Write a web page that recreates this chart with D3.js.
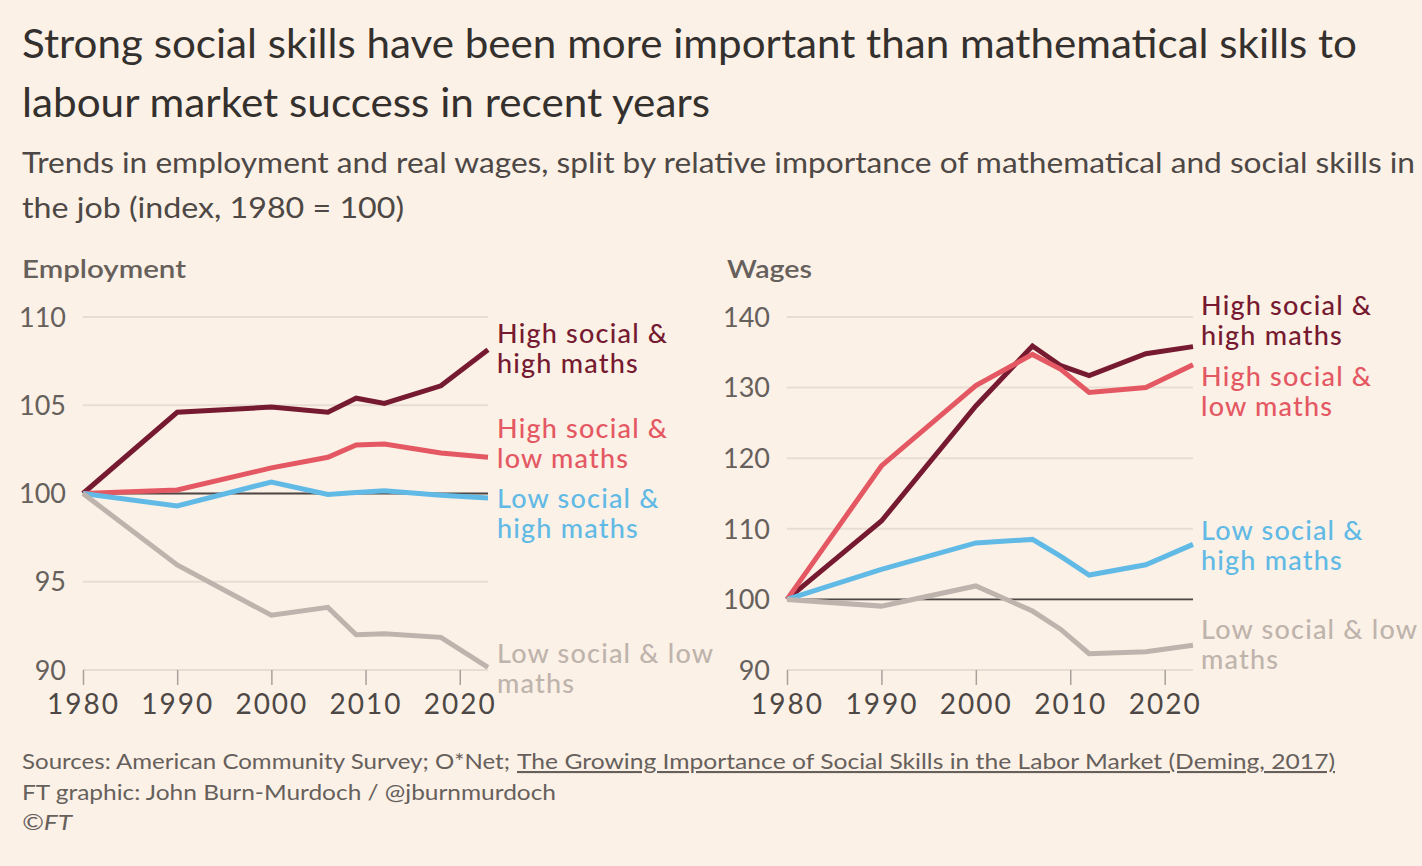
<!DOCTYPE html>
<html>
<head>
<meta charset="utf-8">
<script src="https://cdn.jsdelivr.net/npm/d3@7"></script>
<style>
  body { margin: 0; background: #fcf1e6; }
  svg { display: block; }
</style>
</head>
<body>
<div id="chart"></div>
<script>
// data
var years = [1980, 1990, 2000, 2006, 2009, 2012, 2018, 2023];
var seriesNames = ["High social & high maths", "High social & low maths", "Low social & high maths", "Low social & low maths"];
var labelLines = [["High social &", "high maths"], ["High social &", "low maths"], ["Low social &", "high maths"], ["Low social & low", "maths"]];

var empHighHigh = [100, 104.6, 104.9, 104.6, 105.4, 105.1, 106.1, 108.15];
var empHighLow  = [100, 100.2, 101.45, 102.05, 102.75, 102.8, 102.3, 102.05];
var empLowHigh  = [100, 99.3, 100.65, 99.95, 100.05, 100.15, 99.9, 99.75];
var empLowLow   = [100, 95.95, 93.1, 93.55, 92.0, 92.05, 91.85, 90.15];

var wageHighHigh = [100, 111.1, 127.4, 135.9, 133.1, 131.7, 134.8, 135.8];
var wageHighLow  = [100, 118.9, 130.3, 134.7, 132.6, 129.3, 130.0, 133.25];
var wageLowHigh  = [100, 104.25, 108.0, 108.5, 106.1, 103.45, 104.9, 107.8];
var wageLowLow   = [100, 99.05, 101.9, 98.35, 95.75, 92.3, 92.6, 93.5];

var xTicks = [1980, 1990, 2000, 2010, 2020];
var empTicks = [90, 95, 100, 105, 110];
var wageTicks = [90, 100, 110, 120, 130, 140];

var colors = ["#761a31", "#e45863", "#61bae5", "#beb4ad"];

var W = 1422, H = 866;
var font = "Lato, 'Open Sans', sans-serif";

var svg = d3.select("#chart").append("svg")
    .attr("width", W)
    .attr("height", H);

svg.append("rect").attr("width", W).attr("height", H).attr("fill", "#fcf1e6");

// squeeze a text to a target width, mimics the narrow FT face
function fitText(sel, width) {
    sel.attr("textLength", width).attr("lengthAdjust", "spacingAndGlyphs");
    return sel;
}

// title + subtitle
fitText(svg.append("text").attr("x", 22).attr("y", 58)
    .attr("font-family", font).attr("font-size", 40).attr("fill", "#33302e")
    .text("Strong social skills have been more important than mathematical skills to"), 1335);
fitText(svg.append("text").attr("x", 22).attr("y", 117)
    .attr("font-family", font).attr("font-size", 40).attr("fill", "#33302e")
    .text("labour market success in recent years"), 688);
fitText(svg.append("text").attr("x", 22).attr("y", 173)
    .attr("font-family", font).attr("font-size", 28).attr("fill", "#4d4845")
    .text("Trends in employment and real wages, split by relative importance of mathematical and social skills in"), 1393);
fitText(svg.append("text").attr("x", 22).attr("y", 218)
    .attr("font-family", font).attr("font-size", 28).attr("fill", "#4d4845")
    .text("the job (index, 1980 = 100)"), 382);

function panel(opts) {
    var x = d3.scaleLinear().domain([1980, 2023]).range([opts.left, opts.right]);
    var y = d3.scaleLinear().domain(opts.domain).range([670, 317]);
    var g = svg.append("g");

    fitText(g.append("text").attr("x", opts.titleX).attr("y", 278)
        .attr("font-family", font).attr("font-size", 25).attr("font-weight", 600)
        .attr("fill", "#66605c").text(opts.title), opts.titleW);

    // gridlines
    g.append("g").selectAll("line")
        .data(opts.yTicks)
        .enter()
        .append("line")
        .attr("x1", opts.left).attr("x2", opts.right)
        .attr("y1", function(d) { return y(d); })
        .attr("y2", function(d) { return y(d); })
        .attr("stroke", "#e8ddd3")
        .attr("stroke-width", 2);

    // y labels
    g.append("g").selectAll("text")
        .data(opts.yTicks)
        .enter()
        .append("text")
        .attr("x", opts.left - 17)
        .attr("y", function(d) { return y(d); })
        .attr("dy", "0.36em")
        .attr("text-anchor", "end")
        .attr("font-family", font).attr("font-size", 27)
        .attr("fill", "#66605c")
        .text(function(d) { return d; });

    // x axis
    var xa = g.append("g")
        .attr("transform", "translate(0,670)")
        .call(d3.axisBottom(x).tickValues(xTicks).tickFormat(d3.format("d")).tickSize(15).tickPadding(9));
    xa.select(".domain").remove();
    xa.selectAll(".tick line").attr("stroke", "#a8a19b").attr("stroke-width", 1.5);
    xa.selectAll(".tick text").attr("font-family", font).attr("font-size", 28)
        .attr("letter-spacing", "2px").attr("fill", "#4d4845");

    // 100 baseline
    g.append("line")
        .attr("x1", x(1980)).attr("x2", x(2023))
        .attr("y1", y(100)).attr("y2", y(100))
        .attr("stroke", "#4d4845")
        .attr("stroke-width", 1.8);

    var line = d3.line()
        .x(function(d, i) { return x(years[i]); })
        .y(function(d) { return y(d); });

    g.append("g").selectAll("path")
        .data(opts.series)
        .enter()
        .append("path")
        .attr("d", function(d) { return line(d); })
        .attr("fill", "none")
        .attr("stroke", function(d, i) { return colors[i]; })
        .attr("stroke-width", 5)
        .attr("stroke-linejoin", "miter");

    // direct labels
    var lab = g.append("g").selectAll("text")
        .data(opts.labelY)
        .enter()
        .append("text")
        .attr("x", opts.labelX)
        .attr("y", function(d) { return d; })
        .attr("font-family", font).attr("font-size", 27).attr("font-weight", 500)
        .attr("letter-spacing", "1.2px")
        .attr("fill", function(d, i) { return colors[i]; });
    lab.append("tspan")
        .attr("x", opts.labelX)
        .text(function(d, i) { return labelLines[i][0]; });
    lab.append("tspan")
        .attr("x", opts.labelX).attr("dy", 30)
        .text(function(d, i) { return labelLines[i][1]; });
}

panel({
    title: "Employment", titleX: 22, titleW: 164,
    left: 83, right: 488,
    domain: [90, 110], yTicks: empTicks,
    series: [empHighHigh, empHighLow, empLowHigh, empLowLow],
    labelX: 497, labelY: [343, 438, 508, 663]
});

panel({
    title: "Wages", titleX: 727, titleW: 85,
    left: 787, right: 1193,
    domain: [90, 140], yTicks: wageTicks,
    series: [wageHighHigh, wageHighLow, wageLowHigh, wageLowLow],
    labelX: 1201, labelY: [315, 386, 540, 639]
});

// footer
fitText(svg.append("text").attr("x", 22).attr("y", 769)
    .attr("font-family", font).attr("font-size", 21).attr("fill", "#66605c")
    .text("Sources: American Community Survey; O*Net;"), 488);
fitText(svg.append("text").attr("x", 517).attr("y", 769)
    .attr("font-family", font).attr("font-size", 21).attr("fill", "#66605c")
    .attr("text-decoration", "underline")
    .text("The Growing Importance of Social Skills in the Labor Market (Deming, 2017)"), 818);
fitText(svg.append("text").attr("x", 22).attr("y", 800)
    .attr("font-family", font).attr("font-size", 21).attr("fill", "#66605c")
    .text("FT graphic: John Burn-Murdoch / @jburnmurdoch"), 534);
fitText(svg.append("text").attr("x", 22).attr("y", 830)
    .attr("font-family", font).attr("font-size", 21).attr("font-style", "italic").attr("fill", "#66605c")
    .text("©FT"), 50);
</script>
</body>
</html>
